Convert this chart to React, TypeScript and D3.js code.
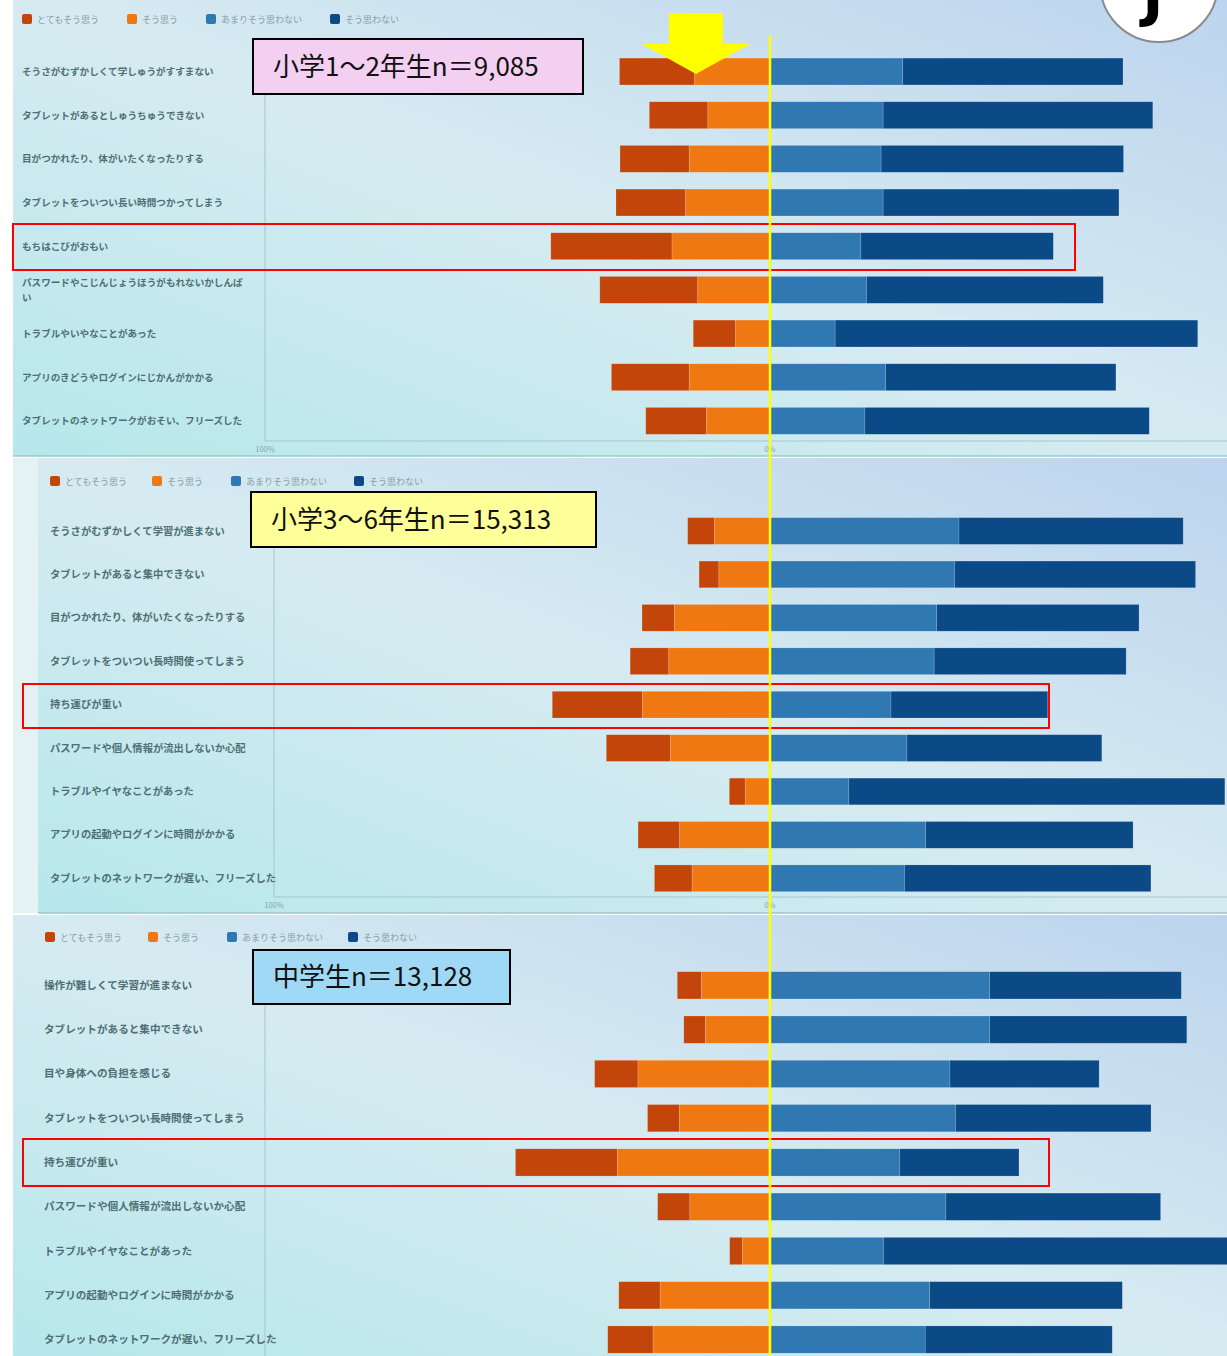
import React from 'react';
import * as d3 from 'd3';

// ---- data ----
const seriesNames = ['とてもそう思う', 'そう思う', 'あまりそう思わない', 'そう思わない'];
const seriesColors = ['#c4450a', '#f07812', '#2f78b2', '#0b4a86'];
const axisTickLabels = ['100%', '0%'];
const axisTickValues = [-100, 0];
const panelTitles = ['小学1～2年生n＝9,085', '小学3～6年生n＝15,313', '中学生n＝13,128'];

const categoriesLower = [
  'そうさがむずかしくて学しゅうがすすまない',
  'タブレットがあるとしゅうちゅうできない',
  '目がつかれたり、体がいたくなったりする',
  'タブレットをついつい長い時間つかってしまう',
  'もちはこびがおもい',
  'パスワードやこじんじょうほうがもれないかしんぱい',
  'トラブルやいやなことがあった',
  'アプリのきどうやログインにじかんがかかる',
  'タブレットのネットワークがおそい、フリーズした',
];
const categoriesMiddle = [
  'そうさがむずかしくて学習が進まない',
  'タブレットがあると集中できない',
  '目がつかれたり、体がいたくなったりする',
  'タブレットをついつい長時間使ってしまう',
  '持ち運びが重い',
  'パスワードや個人情報が流出しないか心配',
  'トラブルやイヤなことがあった',
  'アプリの起動やログインに時間がかかる',
  'タブレットのネットワークが遅い、フリーズした',
];
const categoriesJunior = [
  '操作が難しくて学習が進まない',
  'タブレットがあると集中できない',
  '目や身体への負担を感じる',
  'タブレットをついつい長時間使ってしまう',
  '持ち運びが重い',
  'パスワードや個人情報が流出しないか心配',
  'トラブルやイヤなことがあった',
  'アプリの起動やログインに時間がかかる',
  'タブレットのネットワークが遅い、フリーズした',
];

const lowerVeryAgree = [14.9, 11.6, 13.7, 13.8, 24.0, 19.4, 8.4, 15.4, 12.0];
const lowerAgree = [14.9, 12.3, 16.0, 16.7, 19.4, 14.3, 6.8, 16.0, 12.6];
const lowerDisagree = [26.3, 22.4, 22.0, 22.4, 18.0, 19.1, 12.9, 22.9, 18.8];
const lowerStrongDisagree = [43.6, 53.4, 48.0, 46.7, 38.1, 46.9, 71.8, 45.6, 56.3];

const middleVeryAgree = [5.4, 4.0, 6.5, 7.8, 18.2, 12.9, 3.2, 8.4, 7.6];
const middleAgree = [11.2, 10.3, 19.3, 20.4, 25.7, 20.1, 5.0, 18.2, 15.7];
const middleDisagree = [38.1, 37.2, 33.6, 33.1, 24.4, 27.6, 15.9, 31.4, 27.1];
const middleStrongDisagree = [45.2, 48.6, 40.8, 38.7, 31.6, 39.3, 75.8, 41.8, 49.7];

const juniorVeryAgree = [4.8, 4.3, 8.6, 6.3, 20.2, 6.4, 2.5, 8.2, 9.0];
const juniorAgree = [13.4, 12.6, 26.0, 17.8, 30.1, 15.7, 5.3, 21.6, 23.0];
const juniorDisagree = [43.8, 43.8, 35.9, 37.0, 25.9, 35.1, 22.7, 31.9, 31.0];
const juniorStrongDisagree = [38.0, 39.1, 29.6, 38.8, 23.7, 42.6, 69.5, 38.2, 37.1];

// ---- layout ----
const W = 1227;
const H = 1356;
const FONT = '"Noto Sans CJK JP", "Noto Sans", sans-serif';

const panels = [
  {
    cats: categoriesLower,
    series: [lowerVeryAgree, lowerAgree, lowerDisagree, lowerStrongDisagree],
    bg: { x: 13, y: 0, w: 1214, h: 456 },
    center: 770, half: 505, band: [49.7, 442.7], labelX: 22, labelSize: 9.6,
    legendY: 19, legendX: [22, 127, 206, 330], axisY: 441, gridTop: 40,
    title: { x: 253, y: 39, w: 330, h: 55, fill: '#f3d0f1' },
    red: { x: 13, y: 224, w: 1062, h: 46 },
  },
  {
    cats: categoriesMiddle,
    series: [middleVeryAgree, middleAgree, middleDisagree, middleStrongDisagree],
    bg: { x: 38, y: 458, w: 1189, h: 455 },
    center: 770, half: 496, band: [509.3, 900], labelX: 50, labelSize: 10.3,
    legendY: 481, legendX: [50, 152, 231, 354], axisY: 897, gridTop: 500,
    title: { x: 251, y: 492, w: 345, h: 55, fill: '#ffff99' },
    red: { x: 23, y: 684, w: 1026, h: 44 },
  },
  {
    cats: categoriesJunior,
    series: [juniorVeryAgree, juniorAgree, juniorDisagree, juniorStrongDisagree],
    bg: { x: 13, y: 915, w: 1214, h: 441 },
    center: 769, half: 504, band: [963.2, 1361.7], labelX: 44, labelSize: 10.6,
    legendY: 937, legendX: [45, 148, 227, 348], axisY: null, gridTop: 955,
    title: { x: 253, y: 950, w: 257, h: 54, fill: '#9fd9f6' },
    red: { x: 23, y: 1139, w: 1026, h: 47 },
  },
];

function wrapLabel(s: string, max: number): string[] {
  if (s.length <= max) return [s];
  return [s.slice(0, max), s.slice(max)];
}

function Panel({ p, idx }: { p: any; idx: number }) {
  const x = d3.scaleLinear().domain([-100, 100]).range([p.center - p.half, p.center + p.half]);
  const y = d3.scaleBand<string>().domain(p.cats).range(p.band).paddingInner(0.385).paddingOuter(0.1925);
  const bw = y.bandwidth();
  const gid = `bg${idx}`;
  const clipId = `clip${idx}`;
  return (
    <g>
      <defs>
        <linearGradient id={gid} x1="1" y1="0" x2="0" y2="1">
          <stop offset="0" stopColor="#bcd4ee" />
          <stop offset="0.5" stopColor="#d6ebf1" />
          <stop offset="1" stopColor="#b6e8eb" />
        </linearGradient>
        <clipPath id={clipId}>
          <rect x={p.bg.x} y={p.bg.y} width={p.bg.w} height={p.bg.h} />
        </clipPath>
      </defs>
      <rect x={p.bg.x} y={p.bg.y} width={p.bg.w} height={p.bg.h} fill={`url(#${gid})`} />
      {/* grid / axis */}
      <line x1={x(-100)} x2={x(-100)} y1={p.gridTop} y2={p.axisY ?? p.bg.y + p.bg.h} stroke="#a3c7cb" strokeWidth={1} />
      {p.axisY != null && (
        <g>
          <line x1={x(-100)} x2={p.bg.x + p.bg.w} y1={p.axisY} y2={p.axisY} stroke="#a3c7cb" strokeWidth={1} />
          <line x1={p.bg.x} x2={p.bg.x + p.bg.w} y1={p.bg.y + p.bg.h} y2={p.bg.y + p.bg.h} stroke="#9cc6ca" strokeWidth={1.5} />
          {axisTickValues.map((v, i) => (
            <text key={i} x={x(v)} y={p.axisY + 11} fontSize={7.5} fill="#86a6ab" textAnchor="middle" fontFamily={FONT}>
              {axisTickLabels[i]}
            </text>
          ))}
        </g>
      )}
      {/* legend */}
      {seriesNames.map((s, i) => (
        <g key={s}>
          <rect x={p.legendX[i]} y={p.legendY - 5} width={10} height={10} rx={2} fill={seriesColors[i]} />
          <text x={p.legendX[i] + 15} y={p.legendY + 3.5} fontSize={9} fill="#86a0a6" fontFamily={FONT}>{s}</text>
        </g>
      ))}
      {/* category labels */}
      {p.cats.map((c: string) => {
        const lines = wrapLabel(c, 23);
        const cy = (y(c) as number) + bw / 2;
        return (
          <text key={c} x={p.labelX} fontSize={p.labelSize} fontWeight={700} fill="#4f6f75" fontFamily={FONT}>
            {lines.map((l, li) => (
              <tspan key={li} x={p.labelX} y={cy + 3.5 + (li - (lines.length - 1) / 2) * 15}>{l}</tspan>
            ))}
          </text>
        );
      })}
      {/* bars */}
      <g clipPath={`url(#${clipId})`}>
        {p.cats.map((c: string, i: number) => {
          const a = p.series[0][i], b = p.series[1][i], cc = p.series[2][i], d = p.series[3][i];
          const bounds = [-(a + b), -b, 0, cc, cc + d];
          const y0 = y(c) as number;
          return (
            <g key={c}>
              {[0, 1, 2, 3].map((k) => (
                <rect key={k} x={x(bounds[k])} y={y0} width={x(bounds[k + 1]) - x(bounds[k])} height={bw}
                  fill={seriesColors[k]} stroke="rgba(255,255,255,0.25)" strokeWidth={0.6} />
              ))}
            </g>
          );
        })}
      </g>
      {/* title box */}
      <rect x={p.title.x} y={p.title.y} width={p.title.w} height={p.title.h} fill={p.title.fill} stroke="#000" strokeWidth={2} />
      <text x={p.title.x + 20} y={p.title.y + p.title.h / 2 + 9} fontSize={26} fill="#111" fontFamily={FONT}>{panelTitles[idx]}</text>
      {/* red highlight */}
      <rect x={p.red.x} y={p.red.y} width={p.red.w} height={p.red.h} fill="none" stroke="#ff0000" strokeWidth={2} />
    </g>
  );
}

export default function App() {
  return (
    <svg width={W} height={H} viewBox={`0 0 ${W} ${H}`} style={{ position: 'absolute', left: 0, top: 0, display: 'block', background: '#ffffff' }}>
      <rect x={13} y={458} width={25} height={455} fill="#e4f2f4" />
      {panels.map((p, i) => <Panel key={i} p={p} idx={i} />)}
      {/* yellow reference line */}
      <line x1={770} x2={770} y1={35} y2={H} stroke="#ffff00" strokeWidth={2.5} />
      {/* arrow */}
      <polygon points="669,13 723,13 723,44 750,44 696,74 642,44 669,44" fill="#ffff00" />
      {/* circle badge */}
      <circle cx={1159} cy={-17} r={59} fill="#ffffff" stroke="#8a8a8a" strokeWidth={2} />
      <text x={1153} y={15} fontSize={56} fontWeight={900} fill="#000" textAnchor="middle" fontFamily='"DejaVu Sans", sans-serif'>J</text>
    </svg>
  );
}
